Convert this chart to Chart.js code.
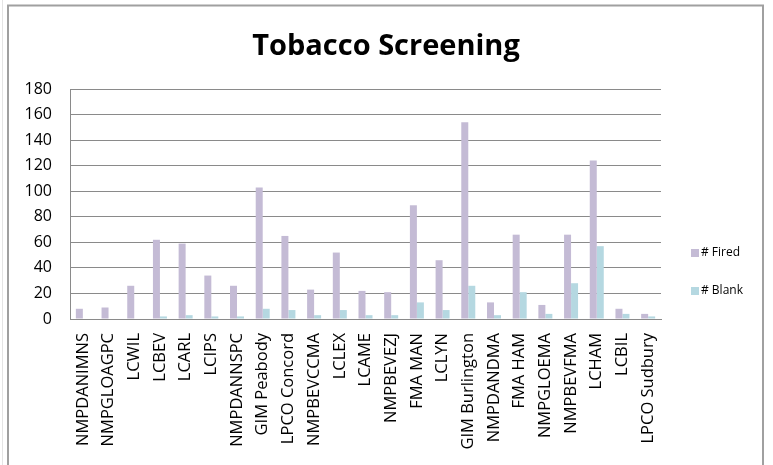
<!DOCTYPE html>
<html>
<head>
<meta charset="utf-8">
<script src="https://cdn.jsdelivr.net/npm/chart.js@4"></script>
<style>
  html, body { margin: 0; padding: 0; background: #fff; }
  #wrap { width: 773px; height: 465px; }
</style>
</head>
<body>
<div id="wrap"><canvas id="c" width="773" height="465"></canvas></div>
<script>
const categories = ["NMPDANIMNS","NMPGLOAGPC","LCWIL","LCBEV","LCARL","LCIPS","NMPDANNSPC","GIM Peabody","LPCO Concord","NMPBEVCCMA","LCLEX","LCAME","NMPBEVEZJ","FMA MAN","LCLYN","GIM Burlington","NMPDANDMA","FMA HAM","NMPGLOEMA","NMPBEVFMA","LCHAM","LCBIL","LPCO Sudbury"];
const firedValues = [8,9,26,62,59,34,26,103,65,23,52,22,21,89,46,154,13,66,11,66,124,8,4];
const blankValues = [0,0,0,2,3,2,2,8,7,3,7,3,3,13,7,26,3,21,4,28,57,4,2];
const seriesNames = ["# Fired", "# Blank"];
const seriesColors = ["#C4BBD5", "#B5D8E1"];
const chartTitle = "Tobacco Screening";

const FONT = "'Open Sans', 'DejaVu Sans', sans-serif";

const framePlugin = {
  id: 'frame',
  beforeDraw(chart) {
    const ctx = chart.ctx;
    ctx.save();
    ctx.strokeStyle = '#e4e4e4';
    ctx.lineWidth = 1;
    ctx.beginPath();
    ctx.moveTo(2.5, 0); ctx.lineTo(2.5, 465);
    ctx.stroke();
    ctx.strokeStyle = '#a0a0a0';
    ctx.lineWidth = 2;
    ctx.beginPath();
    ctx.moveTo(8, 465); ctx.lineTo(8, 5.5); ctx.lineTo(763, 5.5); ctx.lineTo(763, 465);
    ctx.stroke();
    ctx.restore();
  }
};

const titleLegendPlugin = {
  id: 'titleLegend',
  afterDraw(chart) {
    const ctx = chart.ctx;
    ctx.save();
    ctx.font = "bold 29px " + FONT;
    ctx.fillStyle = '#000';
    ctx.textAlign = 'center';
    ctx.textBaseline = 'alphabetic';
    ctx.fillText(chartTitle, 386, 55);

    ctx.font = "12px " + FONT;
    ctx.textBaseline = 'middle';
    ctx.textAlign = 'left';
    const ys = [253, 291];
    chart.data.datasets.forEach((ds, i) => {
      ctx.fillStyle = ds.backgroundColor;
      ctx.fillRect(691, ys[i] - 4, 8, 8);
      ctx.fillStyle = '#000';
      ctx.fillText(ds.label, 701, ys[i]);
    });
    ctx.restore();
  }
};

new Chart(document.getElementById('c'), {
  type: 'bar',
  data: {
    labels: categories,
    datasets: [
      { label: seriesNames[0], data: firedValues, backgroundColor: seriesColors[0], borderWidth: 0 },
      { label: seriesNames[1], data: blankValues, backgroundColor: seriesColors[1], borderWidth: 0 }
    ]
  },
  options: {
    responsive: false,
    animation: false,
    events: [],
    categoryPercentage: 0.545,
    barPercentage: 1.0,
    layout: { padding: { left: 0, right: 112, top: 89, bottom: 0 } },
    plugins: {
      legend: { display: false },
      tooltip: { enabled: false },
      title: { display: false }
    },
    scales: {
      y: {
        min: 0, max: 180,
        ticks: { stepSize: 20, color: '#000', font: { family: FONT, size: 16 }, padding: 18 },
        grid: { color: '#8a8a8a', drawTicks: false, lineWidth: 1 },
        border: { display: true, color: '#8a8a8a', width: 1 },
        afterFit(s) { s.width = 70; }
      },
      x: {
        grid: { display: false, drawTicks: false },
        border: { display: true, color: '#8a8a8a', width: 1 },
        ticks: { autoSkip: false, minRotation: 90, maxRotation: 90, color: '#000', font: { family: FONT, size: 16.5 }, padding: 14 },
        afterFit(s) { s.height = 146; }
      }
    }
  },
  plugins: [framePlugin, titleLegendPlugin]
});
</script>
</body>
</html>
